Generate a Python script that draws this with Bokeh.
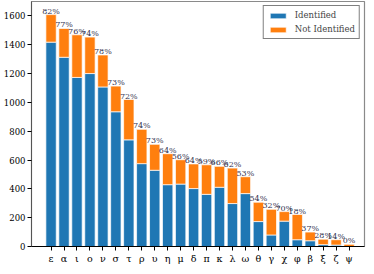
from bokeh.plotting import figure
from bokeh.models import Range1d, FixedTicker, ColumnDataSource, Legend, LegendItem
from bokeh.core.properties import value
from bokeh.embed import file_html
from bokeh.resources import INLINE

letters = ["ε", "α", "ι", "ο", "ν", "σ", "τ", "ρ", "υ", "η", "μ", "δ",
           "π", "κ", "λ", "ω", "θ", "γ", "χ", "φ", "β", "ξ", "ζ", "ψ"]
identified = [1418, 1313, 1173, 1200, 1107, 935, 740, 575, 529, 429, 433, 402,
              362, 411, 298, 367, 173, 80, 176, 47, 40, 13, 10, 0]
not_identified = [191, 200, 296, 253, 222, 178, 280, 238, 180, 215, 169, 171,
                  205, 145, 246, 117, 134, 178, 66, 175, 60, 38, 37, 15]
pct_labels = ["82%", "77%", "76%", "74%", "78%", "73%", "72%", "74%", "73%", "64%",
              "56%", "64%", "59%", "66%", "62%", "53%", "54%", "32%", "70%", "18%",
              "37%", "28%", "14%", "0%"]
y_ticks = [0, 200, 400, 600, 800, 1000, 1200, 1400, 1600]

idx = list(range(len(letters)))
totals = [a + b for a, b in zip(identified, not_identified)]
src = ColumnDataSource(dict(x=idx, ident=identified, notident=not_identified,
                            total=totals, lab=pct_labels))

FONT = "DejaVu Serif"

p = figure(width=366, height=266, output_backend="svg", toolbar_location=None,
           x_range=Range1d(-1.51, len(letters) + 0.19), y_range=Range1d(0, 1700),
           min_border_top=1, min_border_right=2, min_border_left=0, min_border_bottom=0)

r = p.vbar_stack(["ident", "notident"], x="x", width=0.8, source=src,
                 color=["#1f77b4", "#ff7f0e"], line_color="white", line_width=0.7)

p.text(x="x", y="total", text="lab", source=src, text_align="center",
       text_baseline="bottom", text_font=value(FONT), text_font_size="8px",
       text_color="#33334f", y_offset=1)

p.xgrid.visible = False
p.ygrid.visible = False
p.background_fill_color = "white"
p.outline_line_color = "#8a8a8a"
p.outline_line_width = 1.2

p.xaxis.ticker = FixedTicker(ticks=idx)
p.xaxis.major_label_overrides = {i: l for i, l in enumerate(letters)}
p.xaxis.minor_tick_line_color = None
p.xaxis.major_tick_in = 0
p.xaxis.major_tick_out = 4
p.xaxis.axis_line_color = "black"
p.xaxis.major_label_text_font = FONT
p.xaxis.major_label_text_font_size = "9.5px"
p.xaxis.major_label_standoff = 2
p.xaxis.major_label_text_color = "black"

p.yaxis.ticker = FixedTicker(ticks=y_ticks)
p.yaxis.minor_tick_line_color = None
p.yaxis.major_tick_in = 0
p.yaxis.major_tick_out = 4
p.yaxis.axis_line_color = "#555555"
p.yaxis.major_label_text_font = FONT
p.yaxis.major_label_text_font_size = "8.5px"
p.yaxis.major_label_standoff = 2
p.yaxis.major_label_text_color = "black"

legend = Legend(items=[LegendItem(label="Identified", renderers=[r[0]]),
                       LegendItem(label="Not Identified", renderers=[r[1]])],
                location="top_right", margin=4, padding=4, spacing=4,
                glyph_width=20, glyph_height=7, label_height=10, label_standoff=7,
                label_text_font=FONT, label_text_font_size="8.5px",
                border_line_color="black", border_line_width=1,
                background_fill_color="white", background_fill_alpha=1)
p.add_layout(legend)

open("out.html", "w").write(file_html(p, INLINE))
